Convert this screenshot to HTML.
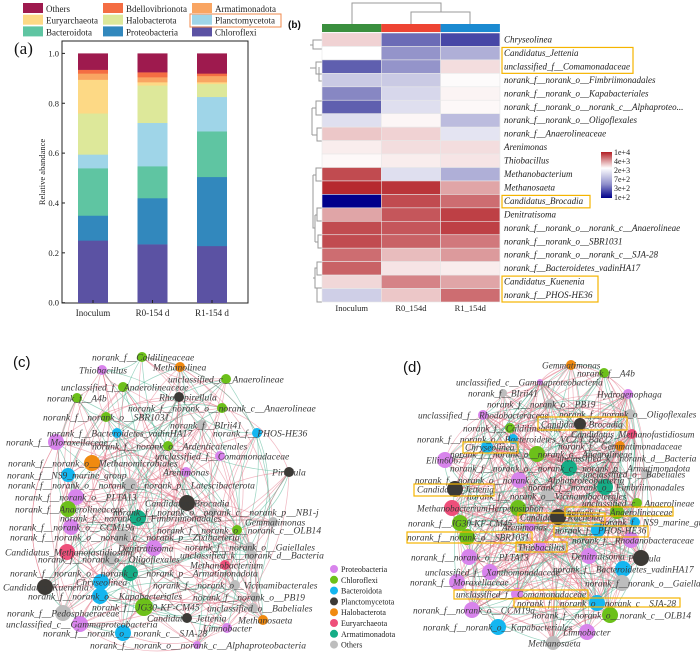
<!DOCTYPE html>
<html><head><meta charset="utf-8">
<style>
html,body{margin:0;padding:0;background:#fff;width:700px;height:656px;overflow:hidden}
svg{display:block;font-family:"Liberation Serif",serif}
</style></head>
<body>
<svg id="fig" width="700" height="656" viewBox="0 0 700 656" xmlns="http://www.w3.org/2000/svg">
  <g id="pa"></g>
  <g id="pb"></g>
  <g id="pc"></g>
  <g id="pd"></g>
</svg>
<script>
// ---------- Panel (a) data ----------
const phyla = ["Chloroflexi","Proteobacteria","Bacteroidota","Planctomycetota","Halobacterota","Euryarchaeota","Armatimonadota","Bdellovibrionota","Others"];
const samplesA = ["Inoculum","R0-154 d","R1-154 d"];
const inoculumVals = [0.25,0.10,0.19,0.055,0.165,0.135,0.025,0.015,0.065];
const r0Vals = [0.235,0.185,0.128,0.174,0.15,0.013,0.02,0.02,0.075];
const r1Vals = [0.228,0.277,0.183,0.138,0.052,0.007,0.025,0.01,0.08];
const yTicksA = ["0.0","0.2","0.4","0.6","0.8","1.0"];
const phylaColors = ["#5b52a3","#3288bd","#5fc5a2","#9fd5e8","#dde89a","#fdd985","#f9a562","#f46d43","#9e1a4e"];

// ---------- Panel (b) data ----------
const genera = ["Chryseolinea","Candidatus_Jettenia","unclassified_f__Comamonadaceae","norank_f__norank_o__Fimbriimonadales","norank_f__norank_o__Kapabacteriales","norank_f__norank_o__norank_c__Alphaproteo...","norank_f__norank_o__Oligoflexales","norank_f__Anaerolineaceae","Arenimonas","Thiobacillus","Methanobacterium","Methanosaeta","Candidatus_Brocadia","Denitratisoma","norank_f__norank_o__norank_c__Anaerolineae","norank_f__norank_o__SBR1031","norank_f__norank_o__norank_c__SJA-28","norank_f__Bacteroidetes_vadinHA17","Candidatus_Kuenenia","norank_f__PHOS-HE36"];
const samplesB = ["Inoculum","R0_154d","R1_154d"];
const heatInoculum = [0.2,0.0,-0.6,-0.2,-0.45,-0.6,-0.12,0.25,0.08,0.03,0.8,0.95,-1,0.4,0.8,0.8,0.65,0.7,0.18,-0.18];
const heatR0 = [-0.55,-0.4,-0.4,-0.2,-0.15,-0.12,0.04,0.2,0.15,0.08,-0.12,0.9,0.8,0.75,0.75,0.7,0.3,0.12,0.55,0.25];
const heatR1 = [-0.7,-0.3,0.15,0.02,0.05,0.03,-0.25,-0.1,0.15,0.12,-0.3,0.4,0.65,0.85,0.85,0.6,0.45,0.08,0.4,0.65];
const colorbarLabels = ["1e+4","4e+3","2e+3","7e+2","3e+2","1e+2"];
const boxedGenera = [[1,2],[12,12],[18,19]];

const NS="http://www.w3.org/2000/svg";
function mk(parent,tag,attrs,txt){const e=document.createElementNS(NS,tag);for(const k in attrs)e.setAttribute(k,attrs[k]);if(txt!==undefined)e.textContent=txt;parent.appendChild(e);return e;}

// ===== Panel A =====
(function(){
const g=document.getElementById('pa');
const x0=62,x1=248,yTop=41,yBot=303;
const yS=v=>302.7-v*249.3;
const barX=i=>78+i*59.5;
const bw=30;
const legOrder=[["Others",8],["Euryarchaeota",5],["Bacteroidota",2],["Bdellovibrionota",7],["Halobacterota",4],["Proteobacteria",1],["Armatimonadota",6],["Planctomycetota",3],["Chloroflexi",0]];
legOrder.forEach((it,k)=>{const col=Math.floor(k/3),row=k%3;const lx=[23,103,192][col],ly=3+row*11.7;
 const lg=mk(g,'g',{});
 
 
 mk(lg,'rect',{x:lx,y:ly,width:20,height:10,fill:phylaColors[it[1]]});
 mk(lg,'text',{x:lx+23,y:ly+9,'font-size':9,fill:'#222'},it[0]);});
const hb=mk(g,'rect',{x:190,y:14,width:91,height:13,fill:'none',stroke:'#f08a4b','stroke-width':1});

const pl=mk(g,'text',{x:14,y:54,'font-size':17,fill:'#111'},'(a)');

const fr=mk(g,'rect',{x:x0,y:yTop,width:x1-x0,height:yBot-yTop,fill:'none',stroke:'#222','stroke-width':1});

yTicksA.forEach(t=>{const y=yS(parseFloat(t));
 mk(g,'line',{x1:x0,x2:x0+3,y1:y,y2:y,stroke:'#222'});
 const tt=mk(g,'text',{x:x0-3,y:y+3,'font-size':8.5,'text-anchor':'end',fill:'#222'},t);
 });
const yl=mk(g,'text',{x:45,y:172,'font-size':8.5,'text-anchor':'middle',fill:'#222',transform:'rotate(-90 45 172)'},'Relative abandance');

[inoculumVals,r0Vals,r1Vals].forEach((vals,i)=>{let cum=0;
 vals.forEach((v,j)=>{const r=mk(g,'rect',{x:barX(i),y:yS(cum+v),width:bw,height:yS(cum)-yS(cum+v)+0.3,fill:phylaColors[j]});
  cum+=v;});
 const xl=mk(g,'text',{x:barX(i)+bw/2,y:316,'font-size':9,'text-anchor':'middle',fill:'#222'},samplesA[i]);
 
 mk(g,'line',{x1:barX(i)+bw/2,x2:barX(i)+bw/2,y1:yBot,y2:yBot-3,stroke:'#222'});});
})();

// ===== Panel B =====
(function(){
const g=document.getElementById('pb');
const cx=i=>322+i*59.3, cw=59.3, ry=r=>33+r*13.45, rh=13.45;
function col(v){let a=[255,255,255],b;
 if(v>=0){b=[178,30,36];return 'rgb('+a.map((c,k)=>Math.round(c+(b[k]-c)*v)).join(',')+')';}
 const t=-v; if(t<=0.6){b=[95,95,175];const u=t/0.6;return 'rgb('+a.map((c,k)=>Math.round(c+(b[k]-c)*u)).join(',')+')';}
 a=[95,95,175];b=[0,0,139];const u=(t-0.6)/0.4;return 'rgb('+a.map((c,k)=>Math.round(c+(b[k]-c)*u)).join(',')+')';}
const bl=mk(g,'text',{x:288,y:28,'font-size':10,'font-weight':'bold','font-family':'Liberation Sans, sans-serif',fill:'#111'},'(b)');

["#3a8f3e","#ee4433","#1b8ad1"].forEach((c,i)=>{const r=mk(g,'rect',{x:cx(i),y:24,width:cw,height:8,fill:c});
 });
const td='M352 24V3H441V12M411 24V12H470V24';
mk(g,'path',{d:td,fill:'none',stroke:'#999','stroke-width':1});
const ld='M322 40H313V49H322 M313 45H310 M322 62H316V74H319 M319 67V81H322 M319 74H322 M316 68H310 M322 101H316V115H322 M316 108H312 M322 128H317V141H322 M317 135H312 M312 108V135 M322 168H316V181H322 M316 175H313 M322 208H317V221H322 M317 215H315 M322 235H318V248H322 M318 242H315 M315 215V242 M313 175V228H315 M322 262H317V275H322 M317 268H315V288H322 M315 278H313 M322 288H317V302H322';
mk(g,'path',{d:ld,fill:'none',stroke:'#999','stroke-width':1});
[heatInoculum,heatR0,heatR1].forEach((vals,i)=>{vals.forEach((v,r)=>{
 const c=mk(g,'rect',{x:cx(i),y:ry(r),width:cw,height:rh,fill:col(v),stroke:'#e8e8e8','stroke-width':0.6});
 });
 const t=mk(g,'text',{x:cx(i)+cw/2,y:311,'font-size':8.5,'text-anchor':'middle',fill:'#222'},samplesB[i]);
 });
genera.forEach((n,r)=>{const t=mk(g,'text',{x:504,y:ry(r)+9.5,'font-size':9,'font-style':'italic',fill:'#222'},n);
 });
boxedGenera.forEach(b=>{const w=b[0]===12?88:b[0]===1?131:96;
 const r=mk(g,'rect',{x:502,y:ry(b[0])+1,width:w,height:(b[1]-b[0]+1)*rh-1,fill:'none',stroke:'#f5b400','stroke-width':1.2});
 });
const defs=mk(g,'defs',{});const lg=mk(defs,'linearGradient',{id:'cb',x1:0,y1:0,x2:0,y2:1});
[[0,'#b21e24'],[0.35,'#ffffff'],[0.7,'#8f8fcb'],[1,'#00008b']].forEach(s=>mk(lg,'stop',{offset:s[0],'stop-color':s[1]}));
const cbr=mk(g,'rect',{x:601,y:152,width:11,height:46,fill:'url(#cb)'});

colorbarLabels.forEach((l,k)=>{const t=mk(g,'text',{x:614,y:155+k*9,'font-size':8,fill:'#222'},l);
 });
})();

// ===== Networks =====
const palette={P:'#d884ec',C:'#6cc01a',B:'#14b6f0',L:'#3d3a36',H:'#f08a10',E:'#ee4f7a',A:'#15ad86',O:'#bdbdbd'};
const nodesC=[
[142,357,5,'C','norank_f__Caldilineaceae',92],[102,370,5,'P','Thiobacillus',79],[180,367,5,'H','Methanolinea',153],[226,379,5,'C','unclassified_c__Anaerolineae',168],
[123,387,5,'C','unclassified_f__Anaerolineaceae',61],[77,398,5,'C','norank_f__A4b',47],[179,397,5,'L','Rhodopirellula',159],[222,408,5,'C','norank_f__norank_o__norank_c__Anaerolineae',128],
[106,417,5,'C','norank_f__norank_o__SBR1031',43],[202,425,5,'O','norank_f__BIrii41',170],[117,433,5,'B','norank_f__Bacteroidetes_vadinHA17',47],[257,433,5,'B','norank_f__PHOS-HE36',213],
[56,442,8,'P','norank_f__Moraxellaceae',6],[168,446,5,'C','norank_f__norank_o__Ardenticatenales',92],[220,456,5,'P','unclassified_f__Comamonadaceae',155],[92,463,8,'H','norank_f__norank_o__Methanomicrobiales',8],
[186,472,5,'P','Arenimonas',163],[68,475,7,'B','norank_f__NS9_marine_group',7],[289,472,5,'L','Pirellula',272],[130,485,7,'O','norank_f__norank_o__norank_c__norank_p__Latescibacterota',8],
[76,497,8,'P','norank_f__norank_o__PLTA13',15],[187,503,8,'L','Candidatus_Brocadia',145],[68,509,8,'C','norank_f__Anaerolineaceae',15],[213,512,4,'O','norank_f__norank_o__norank_c__norank_p__NB1-j',113],
[138,518,8,'A','norank_f__norank_o__Fimbriimonadales',60],[273,522,5,'O','Gemmatimonas',245],[71,527,8,'P','norank_f__norank_o__CCM19a',9],[237,530,5,'C','norank_f__norank_o__norank_c__OLB14',157],
[123,537,8,'O','norank_f__norank_o__norank_c__norank_p__Zixibacteria',10],[154,548,8,'P','Denitratisoma',118],[250,547,5,'O','norank_f__norank_o__Gaiellales',185],[67,552,8,'E','Candidatus_Methanofastidiosum',5],
[110,559,7,'O','norank_f__norank_o__Oligoflexales',38],[252,555,5,'O','unclassified_k__norank_d__Bacteria',180],[225,565,5,'E','Methanobacterium',190],[130,573,8,'A','norank_f__norank_o__norank_c__norank_p__Armatimonadota',10],
[101,582,8,'B','Chryseolinea',76],[45,587,8,'L','Candidatus_Kuenenia',3],[235,585,5,'O','norank_f__norank_o__Vicinamibacterales',153],[100,596,8,'B','norank_f__norank_o__Kapabacteriales',28],
[255,597,5,'O','norank_f__norank_o__PB19',193],[144,607,9,'C','norank_f__JG30-KF-CM45',92],[253,608,5,'O','unclassified_o__Babeliales',207],[63,613,8,'O','norank_f__Pedosphaeraceae',7],
[187,618,5,'L','Candidatus_Jettenia',147],[263,620,5,'H','Methanosaeta',238],[80,624,8,'P','unclassified_c__Gammaproteobacteria',6],[227,628,5,'P','Limnobacter',203],
[123,633,8,'B','norank_f__norank_o__norank_c__SJA-28',43],[197,645,4,'P','norank_f__norank_o__norank_c__Alphaproteobacteria',90]];
const nodesD=[
[571,365,5,'H','Gemmatimonas',542],[604,373,5,'C','norank_f__A4b',577],[540,382,3,'P','unclassified_c__Gammaproteobacteria',456],[628,394,5,'P','Hydrogenophaga',597],
[503,393,4,'O','norank_f__BIrii41',468],[550,404,5,'O','norank_f__norank_o__PB19',487],[483,415,5,'P','unclassified_f__Rhodobacteraceae',418],[630,414,5,'O','norank_f__norank_o__Oligoflexales',559],
[580,424,6,'L','Candidatus_Brocadia',541],[510,428,5,'C','norank_f__Caldilineaceae',463],[632,434,5,'E','Candidatus_Methanofastidiosum',571],[513,439,5,'B','norank_f__norank_o__Bacteroidetes_VC2.1_Bac22',417],
[620,446,5,'H','norank_f__Gemmatimonadaceae',558],[487,447,6,'B','Chryseolinea',465],[445,460,8,'P','Ellin6067',426],[537,454,8,'C','norank_f__norank_o__norank_c__Anaerolineae',450],
[610,458,3,'O','unclassified_k__norank_d__Bacteria',557],[569,468,8,'A','norank_f__norank_o__norank_c__norank_p__Armatimonadota',450],[646,474,5,'O','unclassified_o__Babeliales',583],[519,480,8,'P','norank_f__norank_o__norank_c__Alphaproteobacteria',415],
[605,487,8,'A','norank_f__norank_o__Fimbriimonadales',528],[455,489,8,'L','Candidatus_Jettenia',417],[547,496,7,'O','norank_f__norank_o__Vicinamibacterales',467],[637,503,5,'C','unclassified_c__Anaerolineae',582],
[452,508,8,'E','Methanobacterium',417],[518,508,8,'C','Herpetosiphon',488],[617,512,7,'C','norank_f__Anaerolineaceae',567],[558,517,8,'L','Candidatus_Kuenenia',520],
[635,522,5,'B','norank_f__NS9_marine_group',600],[460,523,8,'C','norank_f__JG30-KF-CM45',408],[530,527,5,'P','Arenimonas',502],[598,530,7,'B','norank_f__PHOS-HE36',555],
[467,537,8,'C','norank_f__norank_o__SBR1031',407],[631,540,8,'P','norank_f__Rhodanobacteraceae',572],[540,547,6,'P','Thiobacillus',518],[469,557,8,'P','norank_f__norank_o__PLTA13',411],
[589,556,8,'P','Denitratisoma',571],[641,558,8,'L','Pirellula',628],[490,572,8,'P','unclassified_f__Xanthomonadaceae',425],[623,569,8,'B','norank_f__Bacteroidetes_vadinHA17',553],
[457,582,8,'P','norank_f__Moraxellaceae',410],[622,583,8,'O','norank_f__norank_o__Gaiellales',585],[517,594,6,'P','unclassified_f__Comamonadaceae',456],[597,603,8,'B','norank_f__norank_o__norank_c__SJA-28',517],
[472,610,8,'P','norank_f__norank_o__CCM19a',413],[610,615,8,'C','norank_f__norank_o__norank_c__OLB14',532],[498,627,8,'B','norank_f__norank_o__Kapabacteriales',423],[587,632,8,'P','Limnobacter',563],
[553,643,7,'O','Methanosaeta',528]];

function drawNet(gid,nodes,steps,bend,fs){
 const g=document.getElementById(gid);const eg=mk(g,'g',{});
 
 const n=nodes.length;
 for(let i=0;i<n;i++){steps.forEach((s,k)=>{const j=(i*7+s)%n;if(j===i)return;
  const a=nodes[i],b=nodes[j];const mx=(a[0]+b[0])/2,my=(a[1]+b[1])/2;const dx=b[0]-a[0],dy=b[1]-a[1];
  const sg=(i+k)%2?1:-1;const qx=mx-dy*bend*sg,qy=my+dx*bend*sg;
  const col=(i+k)%3===0?'rgba(70,175,140,0.55)':'rgba(225,110,130,0.5)';
  mk(eg,'path',{d:`M${a[0]} ${a[1]}Q${qx} ${qy} ${b[0]} ${b[1]}`,fill:'none',stroke:col,'stroke-width':0.7});});}
 nodes.forEach(nd=>{const c=mk(g,'circle',{cx:nd[0],cy:nd[1],r:nd[2],fill:palette[nd[3]]});
  });
 nodes.forEach(nd=>{const t=mk(g,'text',{x:nd[5],y:nd[1]+3.3,'font-size':fs,'font-style':'italic',fill:'#3a3a3a'},nd[4]);
  });
}
drawNet('pc',nodesC,[1,3,11,19,23],0.25,9.6);
drawNet('pd',nodesD,[1,2,3,5,9,13,17,21,27],0.2,9.3);

(function(){
const g=document.getElementById('pc');
const t=mk(g,'text',{x:13,y:367,'font-size':15,'font-family':'Liberation Sans, sans-serif',fill:'#111'},'(c)');

const leg=[['P','Proteobacteria'],['C','Chloroflexi'],['B','Bacteroidota'],['L','Planctomycetota'],['H','Halobacterota'],['E','Euryarchaeota'],['A','Armatimonadota'],['O','Others']];
leg.forEach((l,k)=>{const y=569+k*10.8;const lg=mk(g,'g',{});
 
 mk(lg,'circle',{cx:334,cy:y,r:4,fill:palette[l[0]]});
 mk(lg,'text',{x:341,y:y+3,'font-size':8,fill:'#222'},l[1]);});
const d=document.getElementById('pd');
const td=mk(d,'text',{x:403,y:372,'font-size':15,'font-family':'Liberation Sans, sans-serif',fill:'#111'},'(d)');

const boxes=[[538,417,89,13],[463,442,55,11],[414,484,80,12],[565,507,108,9],[518,513,87,10],[554,526,94,11],[407,532,125,11],[516,542,51,10],[454,590,134,9],[514,598,166,9]];
boxes.forEach(b=>{const r=mk(d,'rect',{x:b[0],y:b[1],width:b[2],height:b[3],fill:'none',stroke:'#f5b400','stroke-width':1.2});
 });
})();
</script>
</body></html>
